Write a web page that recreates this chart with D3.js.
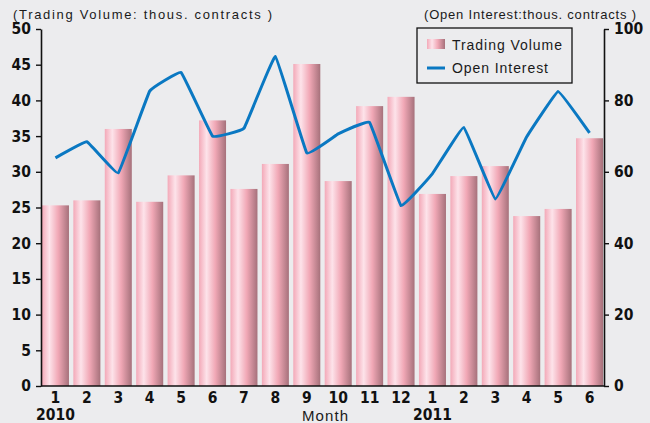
<!DOCTYPE html>
<html>
<head>
<meta charset="utf-8">
<script src="https://cdn.jsdelivr.net/npm/d3@7"></script>
<style>
  html, body { margin: 0; padding: 0; background: #ececee; }
  svg { display: block; }
  .tick-lbl { font-family: "DejaVu Sans Condensed", "Liberation Sans Narrow", Arial, sans-serif; font-weight: bold; font-size: 15.5px; fill: #111; }
  .plain { font-family: "Liberation Sans", Arial, sans-serif; fill: #1a1a1a; }
</style>
</head>
<body>
<svg id="chart" width="650" height="423"></svg>
<script>
// months along the x axis, with year marks under the first month of each year
const months = ["1", "2", "3", "4", "5", "6", "7", "8", "9", "10", "11", "12", "1", "2", "3", "4", "5", "6"];
const yearMarks = [[0, "2010"], [12, "2011"]];

// trading volume (thous. contracts), left axis
const volume = [25.3, 26.0, 36.0, 25.8, 29.5, 37.2, 27.6, 31.1, 45.1, 28.7, 39.2, 40.5, 26.9, 29.4, 30.8, 23.8, 24.8, 34.7];
// open interest (thous. contracts), right axis
const openInterest = [63.9, 68.4, 59.7, 82.6, 87.8, 70.0, 72.2, 92.3, 65.3, 70.6, 73.8, 50.5, 59.5, 72.4, 52.4, 69.8, 82.5, 70.9];

const leftTicks = [0, 5, 10, 15, 20, 25, 30, 35, 40, 45, 50];
const rightTicks = [0, 20, 40, 60, 80, 100];

const W = 650, H = 423;
const m = { top: 29, right: 46, bottom: 37, left: 41 };
const svg = d3.select("#chart");

const x = d3.scaleBand()
  .domain(d3.range(months.length))
  .range([m.left, W - m.right])
  .paddingInner(0.14)
  .paddingOuter(0.03);
const yL = d3.scaleLinear().domain([0, 50]).range([H - m.bottom, m.top]);
const yR = d3.scaleLinear().domain([0, 100]).range([H - m.bottom, m.top]);

// bar gradient (cylinder look)
const defs = svg.append("defs");
const grad = defs.append("linearGradient").attr("id", "barGrad")
  .attr("x1", "0%").attr("x2", "100%").attr("y1", "0%").attr("y2", "0%");
[["0%", "#f3a9b8"], ["28%", "#fde3ea"], ["60%", "#f1a8b6"], ["100%", "#a6717b"]]
  .forEach(([o, c]) => grad.append("stop").attr("offset", o).attr("stop-color", c));

// bars
svg.append("g").selectAll("rect")
  .data(volume)
  .join("rect")
  .attr("x", (_, i) => x(i))
  .attr("y", d => yL(d))
  .attr("width", x.bandwidth())
  .attr("height", d => yL(0) - yL(d))
  .attr("fill", "url(#barGrad)");

// open interest line, lightly rounded at the turns
const line = d3.line()
  .x((_, i) => x(i) + x.bandwidth() / 2)
  .y(d => yR(d))
  .curve(d3.curveCardinal.tension(0.8));
svg.append("path")
  .datum(openInterest)
  .attr("d", line)
  .attr("fill", "none")
  .attr("stroke", "#0a78c2")
  .attr("stroke-width", 3)
  .attr("stroke-linejoin", "round")
  .attr("stroke-linecap", "butt");

// axes
const axisColor = "#111";
const left = svg.append("g").attr("transform", `translate(${m.left},0)`)
  .call(d3.axisLeft(yL).tickValues(leftTicks).tickSize(5).tickSizeOuter(0).tickPadding(5));
const right = svg.append("g").attr("transform", `translate(${W - m.right},0)`)
  .call(d3.axisRight(yR).tickValues(rightTicks).tickSize(5).tickSizeOuter(0).tickPadding(5));
const bottom = svg.append("g").attr("transform", `translate(0,${H - m.bottom})`)
  .call(d3.axisBottom(x).tickFormat(i => months[i]).tickSize(0).tickPadding(6));

[left, right, bottom].forEach(g => {
  g.select(".domain").attr("stroke", axisColor).attr("stroke-width", 1.6);
  g.selectAll(".tick line").attr("stroke", axisColor).attr("stroke-width", 1.4);
  g.selectAll(".tick text").attr("class", "tick-lbl").attr("fill", null);
});
bottom.select(".domain").attr("d", `M${m.left},0H${W - m.right + 1}`);

// year labels
svg.append("g").selectAll("text")
  .data(yearMarks)
  .join("text")
  .attr("class", "tick-lbl")
  .attr("x", d => x(d[0]) + x.bandwidth() / 2)
  .attr("y", 420)
  .attr("text-anchor", "middle")
  .text(d => d[1]);

svg.append("text").attr("class", "plain")
  .attr("x", 325).attr("y", 421)
  .attr("text-anchor", "middle")
  .attr("font-size", 15)
  .attr("textLength", 46).attr("lengthAdjust", "spacing")
  .text("Month");

// axis unit titles
svg.append("text").attr("class", "plain")
  .attr("x", 13).attr("y", 19)
  .attr("font-size", 13)
  .attr("textLength", 259).attr("lengthAdjust", "spacing")
  .text("(Trading Volume: thous. contracts )");
svg.append("text").attr("class", "plain")
  .attr("x", 424).attr("y", 19)
  .attr("font-size", 13)
  .attr("textLength", 212).attr("lengthAdjust", "spacing")
  .text("(Open Interest:thous. contracts )");

// legend
const lg = svg.append("g").attr("transform", "translate(417,28)");
lg.append("rect").attr("width", 155).attr("height", 55)
  .attr("fill", "#ececee").attr("stroke", "#111").attr("stroke-width", 1.3);
lg.append("rect").attr("x", 10).attr("y", 11).attr("width", 18).attr("height", 10)
  .attr("fill", "url(#barGrad)");
lg.append("text").attr("class", "plain").attr("x", 35).attr("y", 21.5)
  .attr("font-size", 14).attr("textLength", 110).attr("lengthAdjust", "spacing").text("Trading Volume");
lg.append("line").attr("x1", 10).attr("x2", 28).attr("y1", 40).attr("y2", 40)
  .attr("stroke", "#0a78c2").attr("stroke-width", 3);
lg.append("text").attr("class", "plain").attr("x", 35).attr("y", 45)
  .attr("font-size", 14).attr("textLength", 96).attr("lengthAdjust", "spacing").text("Open Interest");
</script>
</body>
</html>
